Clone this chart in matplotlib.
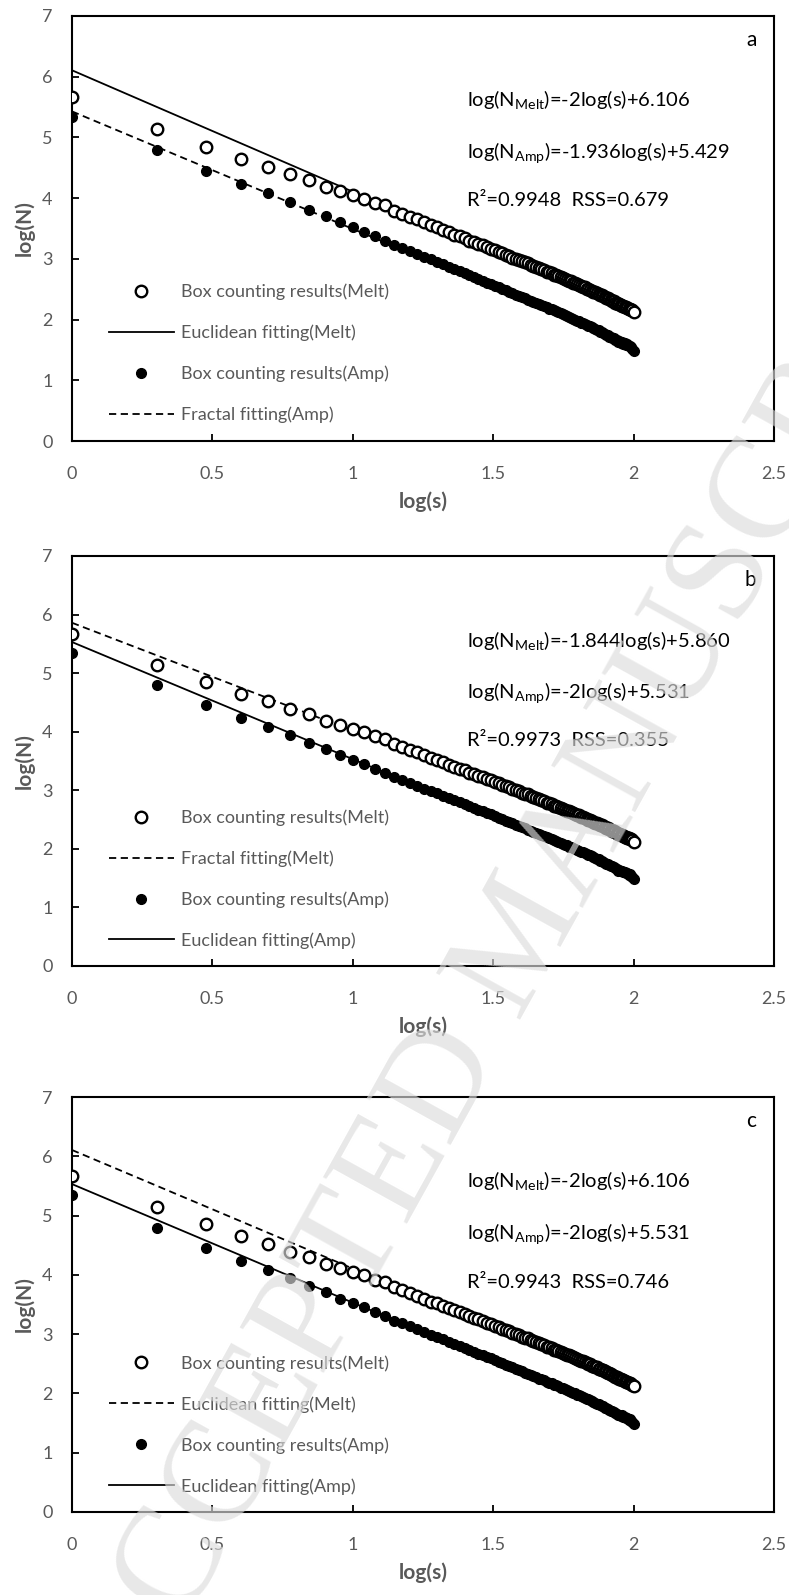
import matplotlib
matplotlib.use("Agg")
import matplotlib.pyplot as plt
from matplotlib.lines import Line2D

# box size s = 1..100, x axis is log10(s)
log_s = [0.000, 0.301, 0.477, 0.602, 0.699, 0.778, 0.845, 0.903, 0.954, 1.000,
         1.041, 1.079, 1.114, 1.146, 1.176, 1.204, 1.230, 1.255, 1.279, 1.301,
         1.322, 1.342, 1.362, 1.380, 1.398, 1.415, 1.431, 1.447, 1.462, 1.477,
         1.491, 1.505, 1.519, 1.531, 1.544, 1.556, 1.568, 1.580, 1.591, 1.602,
         1.613, 1.623, 1.633, 1.643, 1.653, 1.663, 1.672, 1.681, 1.690, 1.699,
         1.708, 1.716, 1.724, 1.732, 1.740, 1.748, 1.756, 1.763, 1.771, 1.778,
         1.785, 1.792, 1.799, 1.806, 1.813, 1.820, 1.826, 1.833, 1.839, 1.845,
         1.851, 1.857, 1.863, 1.869, 1.875, 1.881, 1.886, 1.892, 1.898, 1.903,
         1.908, 1.914, 1.919, 1.924, 1.929, 1.934, 1.940, 1.944, 1.949, 1.954,
         1.959, 1.964, 1.968, 1.973, 1.978, 1.982, 1.987, 1.991, 1.996, 2.000]

# box counting results, log(N)
melt_logN = [5.67, 5.14, 4.85, 4.65, 4.52, 4.39, 4.30, 4.19, 4.12, 4.05,
             3.99, 3.92, 3.88, 3.79, 3.74, 3.69, 3.65, 3.60, 3.55, 3.52,
             3.48, 3.44, 3.40, 3.37, 3.34, 3.30, 3.28, 3.25, 3.22, 3.19,
             3.17, 3.14, 3.12, 3.09, 3.07, 3.05, 3.02, 3.00, 2.98, 2.96,
             2.94, 2.93, 2.90, 2.89, 2.87, 2.85, 2.83, 2.81, 2.79, 2.78,
             2.76, 2.74, 2.73, 2.71, 2.70, 2.68, 2.67, 2.65, 2.64, 2.63,
             2.61, 2.60, 2.58, 2.57, 2.55, 2.54, 2.53, 2.51, 2.50, 2.49,
             2.47, 2.46, 2.45, 2.44, 2.42, 2.41, 2.40, 2.39, 2.37, 2.36,
             2.35, 2.34, 2.32, 2.31, 2.30, 2.28, 2.27, 2.26, 2.25, 2.24,
             2.23, 2.22, 2.21, 2.20, 2.19, 2.18, 2.17, 2.16, 2.15, 2.12]

amp_logN = [5.34, 4.79, 4.45, 4.23, 4.08, 3.94, 3.81, 3.71, 3.60, 3.52,
            3.45, 3.37, 3.30, 3.23, 3.18, 3.13, 3.08, 3.03, 2.99, 2.95,
            2.91, 2.87, 2.83, 2.80, 2.76, 2.73, 2.70, 2.67, 2.64, 2.61,
            2.59, 2.56, 2.53, 2.51, 2.48, 2.46, 2.44, 2.41, 2.39, 2.37,
            2.35, 2.33, 2.31, 2.29, 2.27, 2.25, 2.24, 2.22, 2.20, 2.18,
            2.17, 2.15, 2.14, 2.12, 2.10, 2.09, 2.07, 2.06, 2.04, 2.03,
            2.01, 2.00, 1.98, 1.97, 1.95, 1.94, 1.93, 1.91, 1.90, 1.89,
            1.87, 1.86, 1.84, 1.83, 1.82, 1.80, 1.79, 1.78, 1.76, 1.75,
            1.74, 1.72, 1.71, 1.70, 1.69, 1.67, 1.66, 1.63, 1.64, 1.62,
            1.63, 1.60, 1.61, 1.58, 1.59, 1.56, 1.57, 1.54, 1.52, 1.48]

# fitted lines per panel: (slope, intercept)
panel_names = ["a", "b", "c"]
melt_fit = [(-2.0, 6.106), (-1.844, 5.860), (-2.0, 6.106)]
amp_fit = [(-1.936, 5.429), (-2.0, 5.531), (-2.0, 5.531)]
melt_fit_label = ["Euclidean fitting(Melt)", "Fractal fitting(Melt)", "Euclidean fitting(Melt)"]
amp_fit_label = ["Fractal fitting(Amp)", "Euclidean fitting(Amp)", "Euclidean fitting(Amp)"]
melt_style = ["-", "--", "--"]
amp_style = ["--", "-", "-"]
melt_eq = ["-2log(s)+6.106", "-1.844log(s)+5.860", "-2log(s)+6.106"]
amp_eq = ["-1.936log(s)+5.429", "-2log(s)+5.531", "-2log(s)+5.531"]
stats = ["R²=0.9948  RSS=0.679", "R²=0.9973  RSS=0.355", "R²=0.9943  RSS=0.746"]
fit_range = [0, 2]

gray = "#595959"
plt.rcParams["font.family"] = ["Lato", "DejaVu Sans"]
plt.rcParams["mathtext.default"] = "regular"

W, H = 789, 1595
fig = plt.figure(figsize=(W / 100, H / 100), dpi=100)

# axes boxes in pixels: (top, bottom)
boxes = [(16, 441), (556, 966), (1097, 1512)]
left, right = 72, 774

dash = (0, (4, 2.5))

for i, name in enumerate(panel_names):
    top, bot = boxes[i]
    ax = fig.add_axes([left / W, 1 - bot / H, (right - left) / W, (bot - top) / H])

    ms, mb = melt_fit[i]
    as_, ab = amp_fit[i]
    ls_m = dash if melt_style[i] == "--" else "-"
    ls_a = dash if amp_style[i] == "--" else "-"

    ax.plot(log_s, melt_logN, "o", ms=8.3, mfc="white", mec="black", mew=1.7, zorder=3)
    ax.plot(fit_range, [mb + ms * x for x in fit_range], color="black", lw=1.3, ls=ls_m, zorder=2)
    ax.plot(log_s, amp_logN, "o", ms=7, mfc="black", mec="black", zorder=3)
    ax.plot(fit_range, [ab + as_ * x for x in fit_range], color="black", lw=1.3, ls=ls_a, zorder=2)

    ax.set_xlim(0, 2.5)
    ax.set_ylim(0, 7)
    ax.set_xticks([0, 0.5, 1, 1.5, 2, 2.5])
    ax.set_xticklabels(["0", "0.5", "1", "1.5", "2", "2.5"])
    ax.set_yticks(range(8))
    ax.tick_params(direction="in", length=5, width=1.3, colors="black",
                   labelcolor=gray, labelsize=13)
    ax.tick_params(axis="x", pad=18)
    ax.tick_params(axis="y", pad=14)
    for sp in ax.spines.values():
        sp.set_linewidth(1.5)

    ax.set_xlabel("log(s)", fontsize=15, fontweight="bold", color=gray, labelpad=7)
    ax.set_ylabel("log(N)", fontsize=15, fontweight="bold", color=gray, labelpad=5)

    handles = [
        Line2D([], [], marker="o", ls="none", ms=8.3, mfc="white", mec="black", mew=1.7),
        Line2D([], [], color="black", lw=1.3, ls=ls_m),
        Line2D([], [], marker="o", ls="none", ms=7, mfc="black", mec="black"),
        Line2D([], [], color="black", lw=1.3, ls=ls_a),
    ]
    labels = ["Box counting results(Melt)", melt_fit_label[i],
              "Box counting results(Amp)", amp_fit_label[i]]
    leg = ax.legend(handles, labels, loc="lower left", bbox_to_anchor=(0.052, 0.042),
                    frameon=False, fontsize=13, handlelength=3.6, handletextpad=0.4,
                    labelspacing=1.35, borderpad=0, borderaxespad=0)
    for t in leg.get_texts():
        t.set_color(gray)

    # fit equations
    ax.text(0.562, 1 - 84 / (bot - top), "log(N$_{Melt}$)=" + melt_eq[i],
            transform=ax.transAxes, fontsize=14.5, va="center", ha="left")
    ax.text(0.562, 1 - 137 / (bot - top), "log(N$_{Amp}$)=" + amp_eq[i],
            transform=ax.transAxes, fontsize=14.5, va="center", ha="left")
    ax.text(0.562, 1 - 185 / (bot - top), stats[i],
            transform=ax.transAxes, fontsize=14.5, va="center", ha="left")
    ax.text(0.975, 1 - 24 / (bot - top), name, transform=ax.transAxes,
            fontsize=15, va="center", ha="right")

# journal watermark
fig.text(525 / W, 1 - 940 / H, "ACCEPTED MANUSCRIPT", rotation=61,
         fontsize=106, family="Liberation Serif", color="#dcdcdc", alpha=0.65,
         ha="center", va="center", zorder=10)

fig.savefig("out.png", dpi=100)
